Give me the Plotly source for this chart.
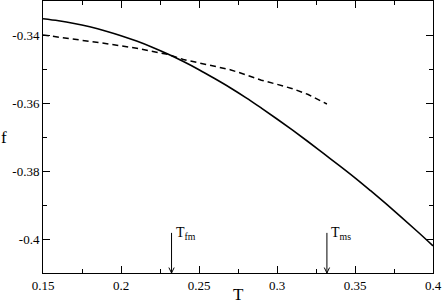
import plotly.graph_objects as go

# Data
T_solid = [0.15, 0.16, 0.17, 0.18, 0.19, 0.20, 0.21, 0.22, 0.23, 0.24, 0.25, 0.26,
           0.27, 0.28, 0.29, 0.30, 0.31, 0.32, 0.33, 0.34, 0.35, 0.36, 0.37, 0.38,
           0.39, 0.40]
f_solid = [-0.3352, -0.3358, -0.3366, -0.3376, -0.3388, -0.3402, -0.3418, -0.3436,
           -0.3456, -0.3478, -0.3502, -0.3528, -0.3555, -0.3584, -0.3615, -0.3647,
           -0.3680, -0.3714, -0.3749, -0.3784, -0.3820, -0.3858, -0.3897, -0.3937,
           -0.3978, -0.4020]

T_dashed = [0.15, 0.17, 0.19, 0.21, 0.23, 0.24, 0.25, 0.26, 0.27, 0.28, 0.29,
            0.30, 0.31, 0.32, 0.332]
f_dashed = [-0.3400, -0.3412, -0.3425, -0.3439, -0.3457, -0.3472, -0.3482,
            -0.3492, -0.3502, -0.3517, -0.3533, -0.3545, -0.3558, -0.3575, -0.3603]

x_ticks = [0.15, 0.2, 0.25, 0.3, 0.35, 0.4]
x_ticklabels = ["0.15", "0.2", "0.25", "0.3", "0.35", "0.4"]
y_ticks = [-0.4, -0.38, -0.36, -0.34]
y_ticklabels = ["-0.4", "-0.38", "-0.36", "-0.34"]

markers = [("T<sub>fm</sub>", 0.2324), ("T<sub>ms</sub>", 0.332)]
arrow_top = -0.3982
y_min, y_max = -0.41, -0.33

FONT = "Liberation Serif"

fig = go.Figure()
fig.add_trace(go.Scatter(x=T_solid, y=f_solid, mode="lines", line_shape="spline",
                         line=dict(color="black", width=1.6), showlegend=False))
fig.add_trace(go.Scatter(x=T_dashed, y=f_dashed, mode="lines",
                         line=dict(color="black", width=1.5, dash="6px,4px"),
                         showlegend=False))

dx = 0.0017
dy = 0.0016
for label, tx in markers:
    fig.add_shape(type="line", x0=tx, x1=tx, y0=arrow_top, y1=y_min,
                  line=dict(color="black", width=1))
    fig.add_shape(type="path",
                  path=f"M {tx-dx},{y_min+dy} L {tx},{y_min} L {tx+dx},{y_min+dy}",
                  line=dict(color="black", width=1))
    fig.add_annotation(x=tx, y=arrow_top, text=label, showarrow=False,
                       xanchor="left", yanchor="middle", xshift=2, yshift=-1,
                       font=dict(family=FONT, size=14, color="black"))

fig.add_annotation(xref="paper", yref="paper", x=0.5, y=0, text="T",
                   showarrow=False, xanchor="center", yanchor="middle",
                   yshift=-21, font=dict(family=FONT, size=17, color="black"))
fig.add_annotation(xref="paper", yref="paper", x=0, y=0.5, text="f",
                   showarrow=False, xanchor="center", yanchor="middle",
                   xshift=-39, font=dict(family=FONT, size=17, color="black"))

axis_common = dict(showgrid=False, zeroline=False, showline=True, linecolor="black",
                   linewidth=1, mirror="allticks", ticks="inside", ticklen=7,
                   tickwidth=1, tickcolor="black",
                   tickfont=dict(family=FONT, size=13, color="black"))

fig.update_xaxes(range=[0.15, 0.4], tickvals=x_ticks, ticktext=x_ticklabels,
                 minor=dict(dtick=0.025, ticks="inside", ticklen=4, tickcolor="black",
                            tickwidth=1, showgrid=False),
                 **axis_common)
fig.update_yaxes(range=[y_min, y_max], tickvals=y_ticks, ticktext=y_ticklabels,
                 minor=dict(dtick=0.01, ticks="inside", ticklen=4, tickcolor="black",
                            tickwidth=1, showgrid=False),
                 **axis_common)

fig.update_layout(width=442, height=303,
                  margin=dict(l=43, r=9, t=1, b=30),
                  plot_bgcolor="white", paper_bgcolor="white")

fig.write_html("out.html", config={"displayModeBar": False},
               post_script="document.body.style.margin='0';document.body.style.padding='0';")
